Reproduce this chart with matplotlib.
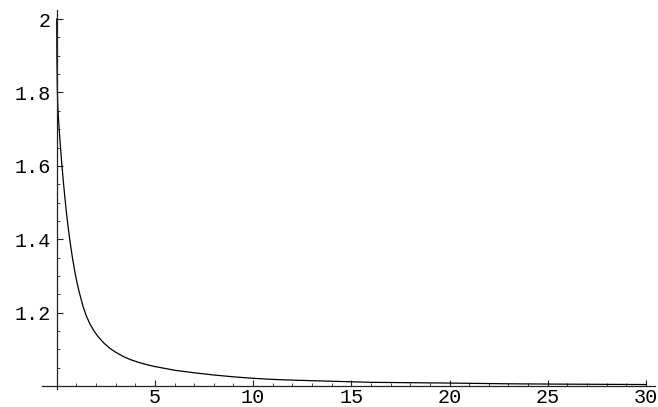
import matplotlib
matplotlib.use("Agg")
import matplotlib.pyplot as plt
from matplotlib.ticker import MultipleLocator, FixedLocator

# values
x_vals = [0, 0.01, 0.03, 0.06, 0.1, 0.15, 0.2, 0.25, 0.3, 0.35, 0.4, 0.5, 0.6,
          0.7, 0.8, 0.9, 1.0, 1.1, 1.2, 1.35, 1.5, 1.7, 1.9, 2.1, 2.4, 2.7, 3.0,
          3.4, 3.8, 4.2, 4.6, 5, 5.5, 6, 7, 8, 9, 10, 11, 12, 14, 16, 18, 20,
          23, 26, 30]
y_vals = [2.0, 1.9, 1.81, 1.755, 1.72, 1.68, 1.645, 1.61, 1.58, 1.55, 1.522,
          1.47, 1.425, 1.385, 1.35, 1.318, 1.29, 1.266, 1.245, 1.215, 1.192,
          1.168, 1.150, 1.135, 1.117, 1.103, 1.092, 1.080, 1.071, 1.064, 1.058,
          1.053, 1.048, 1.043, 1.036, 1.030, 1.025, 1.021, 1.018, 1.016, 1.013,
          1.010, 1.009, 1.008, 1.006, 1.005, 1.004]

x_ticks = [5, 10, 15, 20, 25, 30]
x_ticklabels = ["5", "10", "15", "20", "25", "30"]
y_ticks = [1.2, 1.4, 1.6, 1.8, 2.0]
y_ticklabels = ["1.2", "1.4", "1.6", "1.8", "2"]

fig = plt.figure(figsize=(6.58, 4.07), dpi=100)
ax = fig.add_axes([0.0634, 0.0442, 0.932, 0.931])

ax.plot(x_vals, y_vals, color="black", lw=0.9)

ax.set_xlim(-0.764, 30.46)
ax.set_ylim(0.9918, 2.0245)

# axes crossing at (0, 1) like the original
ax.spines["left"].set_position(("data", 0))
ax.spines["bottom"].set_position(("data", 1))
ax.spines["top"].set_visible(False)
ax.spines["right"].set_visible(False)
for s in ["left", "bottom"]:
    ax.spines[s].set_color("#222222")
    ax.spines[s].set_linewidth(0.9)

ax.xaxis.set_major_locator(FixedLocator(x_ticks))
ax.set_xticklabels(x_ticklabels)
ax.xaxis.set_minor_locator(MultipleLocator(1))
ax.yaxis.set_major_locator(FixedLocator(y_ticks))
ax.set_yticklabels(y_ticklabels)
ax.yaxis.set_minor_locator(FixedLocator([1.05, 1.1, 1.15, 1.25, 1.3, 1.35, 1.45,
                                         1.5, 1.55, 1.65, 1.7, 1.75, 1.85, 1.9, 1.95]))

ax.tick_params(which="major", direction="in", length=4, width=0.8, color="#222222")
ax.tick_params(which="minor", direction="in", length=2.2, width=0.6, color="#222222")
ax.tick_params(axis="x", which="major", pad=1.5)
ax.tick_params(axis="y", which="major", pad=4.5)
for lab in ax.get_xticklabels() + ax.get_yticklabels():
    lab.set_fontfamily("Liberation Mono")
    lab.set_fontsize(14.5)

fig.savefig("out.png", dpi=100)
